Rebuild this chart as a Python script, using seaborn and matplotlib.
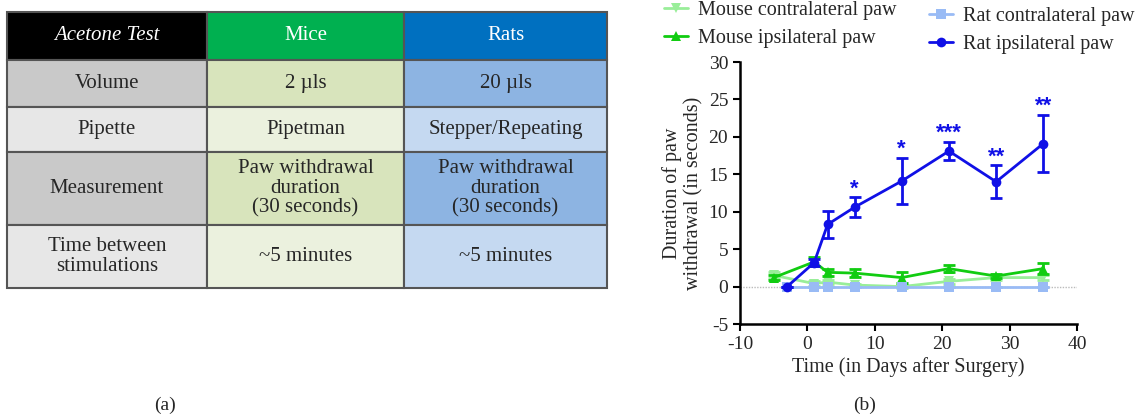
import matplotlib.pyplot as plt
import seaborn as sns
import pandas as pd

# table content
col_labels = ["Acetone Test", "Mice", "Rats"]
row_labels = ["Volume", "Pipette", "Measurement", "Time between\nstimulations"]
mice_vals = ["2 µls", "Pipetman", "Paw withdrawal\nduration\n(30 seconds)", "~5 minutes"]
rat_vals = ["20 µls", "Stepper/Repeating", "Paw withdrawal\nduration\n(30 seconds)", "~5 minutes"]

# chart data
days = [-5, 1, 3, 7, 14, 21, 28, 35]
mouse_contra = [1.5, 0.4, 0.6, 0.2, 0.0, 0.7, 1.2, 1.2]
mouse_contra_err = [0.4, 0.3, 0.3, 0.2, 0.2, 0.3, 0.3, 0.3]
mouse_ipsi = [1.2, 3.3, 1.9, 1.8, 1.2, 2.4, 1.4, 2.4]
mouse_ipsi_err = [0.3, 0.6, 0.5, 0.5, 0.7, 0.5, 0.3, 0.7]

rat_days = [-3, 1, 3, 7, 14, 21, 28, 35]
rat_contra = [0, 0, 0, 0, 0, 0, 0, 0]
rat_contra_err = [0, 0, 0, 0, 0, 0, 0, 0]
rat_ipsi = [0.0, 3.2, 8.3, 10.6, 14.1, 18.1, 14.0, 19.1]
rat_ipsi_err = [0.0, 0.5, 1.8, 1.3, 3.1, 1.2, 2.2, 3.8]
rat_stars = ["", "", "", "*", "*", "***", "**", "**"]

sns.set_style("ticks")
plt.rcParams['font.family'] = ['Liberation Serif', 'DejaVu Serif']
plt.rcParams['axes.unicode_minus'] = False

fig = plt.figure(figsize=(11.41, 4.15), dpi=100)

# ---- (a) table ----
tax = fig.add_axes([7/1141, 127/415, 600/1141, 276/415])
tax.axis('off')
cell_text = [[r, m, t] for r, m, t in zip(row_labels, mice_vals, rat_vals)]
head_colors = ["#000000", "#00b050", "#0070c0"]
dark_row = ["#c9c9c9", "#d8e4bc", "#8db4e2"]
light_row = ["#e7e7e7", "#ebf1de", "#c5d9f1"]
body_colors = [dark_row, light_row, dark_row, light_row]
tbl = tax.table(cellText=[col_labels] + cell_text,
                cellColours=[head_colors] + body_colors,
                cellLoc='center', bbox=[0, 0, 1, 1])
tbl.auto_set_font_size(False)
row_h = [48, 47, 45, 73, 63]
col_w = [200, 197, 203]
for (r, c), cell in tbl.get_celld().items():
    cell.set_height(row_h[r])
    cell.set_width(col_w[c])
    cell.set_edgecolor("#555555")
    cell.set_linewidth(1.5)
    cell.get_text().set_fontsize(15)
    cell.get_text().set_linespacing(1.05)
    if r == 0:
        cell.get_text().set_color("white")
        if c == 0:
            cell.get_text().set_style("italic")
fig.text(165/1141, 1 - 405/415, "(a)", ha='center', va='center', fontsize=14)

# ---- (b) line chart ----
ax = fig.add_axes([740/1141, 91/415, 337/1141, 262/415])
ax.axhline(0, color="#bbbbbb", ls=(0, (1, 1)), lw=1, zorder=0)

series = [
    ("Mouse contralateral paw", days, mouse_contra, mouse_contra_err, "#99ee99", "v"),
    ("Mouse ipsilateral paw", days, mouse_ipsi, mouse_ipsi_err, "#11cc11", "^"),
    ("Rat contralateral paw", rat_days, rat_contra, rat_contra_err, "#99bbf5", "s"),
    ("Rat ipsilateral paw", rat_days, rat_ipsi, rat_ipsi_err, "#1010e6", "o"),
]
for name, x, y, e, col, mk in series:
    df = pd.DataFrame({"day": x, "val": y})
    sns.lineplot(data=df, x="day", y="val", ax=ax, color=col, marker=mk,
                 markersize=7, markeredgewidth=0, lw=2, label=name)
    ax.errorbar(x, y, yerr=e, fmt='none', ecolor=col, elinewidth=2, capsize=4, capthick=2)

for x, y, e, s in zip(rat_days, rat_ipsi, rat_ipsi_err, rat_stars):
    if s:
        ax.text(x, y + e + 0.4, s, ha='center', va='baseline', color="#1010e6",
                fontsize=16, family='Liberation Sans', fontweight='bold')

ax.set_xlim(-10, 40)
ax.set_ylim(-5, 30)
ax.set_xticks(range(-10, 41, 10))
ax.set_yticks(range(-5, 31, 5))
ax.set_xlabel("Time (in Days after Surgery)", fontsize=14.5, labelpad=3)
ax.set_ylabel("Duration of paw\nwithdrawal (in seconds)", fontsize=14.5, linespacing=1.1)
ax.tick_params(labelsize=14, width=1.5, length=5, direction='out', color='black')
sns.despine(ax=ax)
for sp in ["left", "bottom"]:
    ax.spines[sp].set_linewidth(1.8)
    ax.spines[sp].set_color("black")

handles, labels = ax.get_legend_handles_labels()
ax.get_legend().remove()
leg_kw = dict(loc='upper left', frameon=False, fontsize=14.5, handlelength=1.2,
              labelspacing=0.45, handletextpad=0.5, borderpad=0, borderaxespad=0)
fig.legend(handles[:2], labels[:2], bbox_to_anchor=(664/1141, 1 - 1/415), **leg_kw)
fig.legend(handles[2:], labels[2:], bbox_to_anchor=(929/1141, 1 - 7/415), **leg_kw)
fig.text(865/1141, 1 - 405/415, "(b)", ha='center', va='center', fontsize=14)

fig.savefig("out.png", dpi=100)
